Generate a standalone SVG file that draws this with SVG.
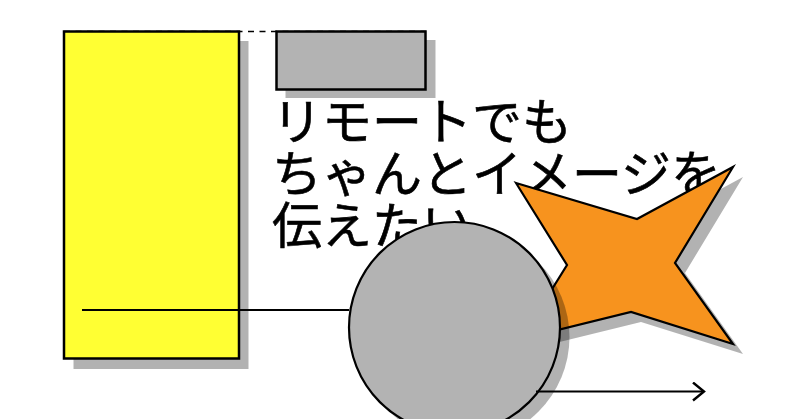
<svg xmlns="http://www.w3.org/2000/svg" width="800" height="419" viewBox="0 0 800 419">
<defs>
<style>
.sh{fill:#000;fill-opacity:0.3}
.ln{stroke:#000;stroke-width:2.2;fill:none}
.txt{font-family:"Noto Sans CJK JP","Noto Sans CJK SC",sans-serif;font-size:50px;fill:#000;stroke:#000;stroke-width:0.6}
</style>
<marker id="arr" viewBox="0 0 14 20" markerWidth="14" markerHeight="20" refX="12" refY="10" orient="auto" markerUnits="userSpaceOnUse">
<path d="M1,1 L12,10 L1,19" fill="none" stroke="#000" stroke-width="2.4"/>
</marker>
</defs>
<rect width="800" height="419" fill="#fff"/>
<g id="connectors-top">
<line x1="64" y1="31.5" x2="426" y2="31.5" stroke="#000" stroke-width="1.5" stroke-dasharray="6 5.5"/>
</g>
<g id="yellow-rect">
<rect class="sh" x="73.5" y="41" width="175" height="328"/>
<rect x="64" y="31.5" width="175" height="327" fill="#FFFF33" stroke="#000" stroke-width="2.5"/>
</g>
<g id="gray-rect">
<rect class="sh" x="285.5" y="40" width="150" height="58"/>
<rect x="276.5" y="31.5" width="149" height="58" fill="#B3B3B3" stroke="#000" stroke-width="2.5"/>
</g>
<g id="label">
<text class="txt" x="272" y="140">リモートでも</text>
<text class="txt" x="272" y="192">ちゃんとイメージを</text>
<text class="txt" x="272" y="244">伝えたい</text>
</g>
<g id="star">
<polygon class="sh" points="526,193 647,229 743,177 685,273 743,354 641,322 531,349 577,275"/>
<polygon points="516,183 637,219 733,167 675,263 733,344 631,312 521,339 567,265" fill="#F7931E" stroke="#000" stroke-width="2.2" stroke-linejoin="miter"/>
</g>
<g id="circle">
<circle class="sh" cx="464" cy="337" r="105.5"/>
<circle cx="454.5" cy="327.5" r="105.5" fill="#B3B3B3" stroke="#000" stroke-width="2.2"/>
</g>
<g id="connectors">
<line class="ln" x1="82" y1="310" x2="349" y2="310"/>
<line class="ln" x1="536" y1="391.5" x2="704" y2="391.5" marker-end="url(#arr)"/>
</g>
</svg>
